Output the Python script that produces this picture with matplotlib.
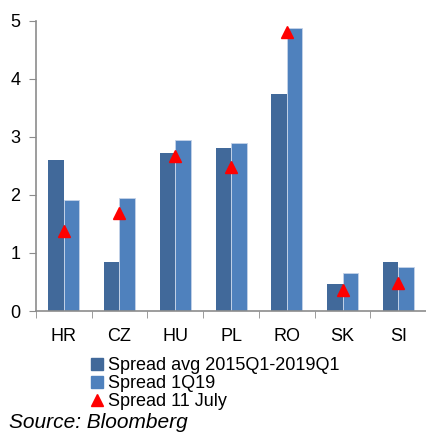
import numpy as np
import matplotlib.pyplot as plt
from matplotlib.lines import Line2D

plt.rcParams['font.family'] = ['Liberation Sans', 'DejaVu Sans']
plt.rcParams['font.size'] = 13

countries = ['HR', 'CZ', 'HU', 'PL', 'RO', 'SK', 'SI']
spread_avg = [2.61, 0.84, 2.73, 2.80, 3.73, 0.46, 0.84]
spread_1q19 = [1.92, 1.94, 2.95, 2.89, 4.87, 0.65, 0.76]
spread_july = [1.38, 1.69, 2.67, 2.48, 4.80, 0.37, 0.48]

dark = '#41699a'
light = '#4f81bd'
axis_grey = '#8c8c8c'

fig = plt.figure(figsize=(4.27, 4.32), dpi=100)
ax = fig.add_axes([0.084, 0.280, 0.914, 0.672])

x = np.arange(len(countries))
w = 0.278
ax.bar(x - w / 2, spread_avg, width=w, color=dark, edgecolor='none')
ax.bar(x + w / 2, spread_1q19, width=w, color=light, edgecolor='#c5d3e8', linewidth=0.6)
ax.plot(x, spread_july, linestyle='none', marker='^', color='red', markersize=9)

ax.set_xlim(-0.5, len(countries) - 0.5)
ax.set_ylim(0, 5)
ax.set_yticks(range(6))
ax.set_xticks(x)
ax.set_xticklabels(countries)
ax.set_xticks(np.arange(-0.5, len(countries)), minor=True)
ax.tick_params(axis='x', which='major', length=0, pad=12)
ax.tick_params(axis='x', which='minor', length=5, color=axis_grey, direction='out')
ax.tick_params(axis='y', length=5, color=axis_grey, pad=6)

for side in ('top', 'right'):
    ax.spines[side].set_visible(False)
for side in ('left', 'bottom'):
    ax.spines[side].set_color(axis_grey)
    ax.spines[side].set_linewidth(1.2)

handles = [
    Line2D([], [], linestyle='none', marker='s', color=dark, markersize=9),
    Line2D([], [], linestyle='none', marker='s', color=light, markersize=9),
    Line2D([], [], linestyle='none', marker='^', color='red', markersize=9),
]
labels = ['Spread avg 2015Q1-2019Q1', 'Spread 1Q19', 'Spread 11 July']
fig.legend(handles, labels, loc='upper left', bbox_to_anchor=(0.214, 0.173),
           frameon=False, handlelength=0.6, handletextpad=0.3,
           labelspacing=0.05, borderpad=0, borderaxespad=0)

fig.text(0.022, 0.001, 'Source: Bloomberg', style='italic', fontsize=15, va='bottom')

fig.savefig('out.png', dpi=100)
